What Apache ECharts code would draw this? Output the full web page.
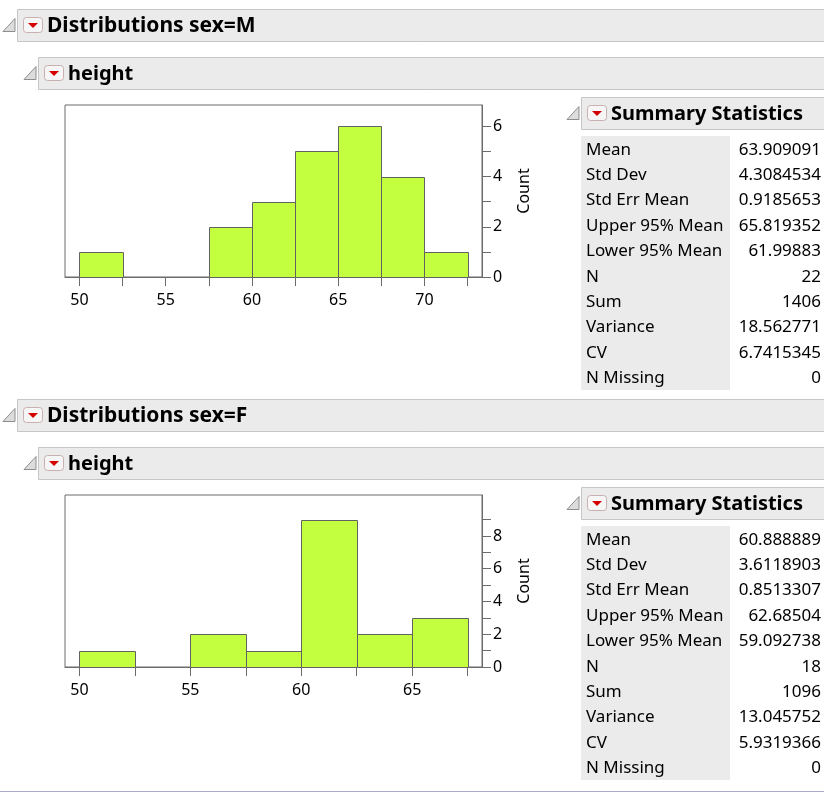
<!DOCTYPE html>
<html><head><meta charset="utf-8">
<script src="https://cdn.jsdelivr.net/npm/echarts@6/dist/echarts.min.js"></script>
<style>html,body{margin:0;padding:0;background:#fff}#c{width:824px;height:792px}</style>
</head><body><div id="c"></div>
<script>
// ---------- data ----------
const binWidth = 2.5;
const binStartsM = [50, 52.5, 55, 57.5, 60, 62.5, 65, 67.5, 70];
const countsM    = [1, 0, 0, 2, 3, 5, 6, 4, 1];
const binStartsF = [50, 52.5, 55, 57.5, 60, 62.5, 65];
const countsF    = [1, 0, 2, 1, 9, 2, 3];
const xTicksM  = [50, 52.5, 55, 57.5, 60, 62.5, 65, 67.5, 70, 72.5];
const xLabelsM = [50, 55, 60, 65, 70];
const xTicksF  = [50, 52.5, 55, 57.5, 60, 62.5, 65, 67.5];
const xLabelsF = [50, 55, 60, 65];
const yTicksM  = [0, 1, 2, 3, 4, 5, 6];
const yLabelsM = [0, 2, 4, 6];
const yTicksF  = [0, 1, 2, 3, 4, 5, 6, 7, 8, 9];
const yLabelsF = [0, 2, 4, 6, 8];
const statNames = ['Mean', 'Std Dev', 'Std Err Mean', 'Upper 95% Mean', 'Lower 95% Mean', 'N', 'Sum', 'Variance', 'CV', 'N Missing'];
const statsM = ['63.909091', '4.3084534', '0.9185653', '65.819352', '61.99883', '22', '1406', '18.562771', '6.7415345', '0'];
const statsF = ['60.888889', '3.6118903', '0.8513307', '62.68504', '59.092738', '18', '1096', '13.045752', '5.9319366', '0'];
const titleM = 'Distributions sex=M';
const titleF = 'Distributions sex=F';
const varName = 'height';
const statsTitle = 'Summary Statistics';
const yName = 'Count';

// ---------- styles ----------
const FONT = '"Noto Sans", "DejaVu Sans", sans-serif';
const BAR_FILL = '#c3ff3e';
const BAR_STROKE = '#626262';
const AXIS_COLOR = '#6b6b6b';

function binData(starts, counts) {
  return starts.map((s, i) => [s, s + binWidth, counts[i]]);
}
function renderBin(params, api) {
  const c = api.value(2);
  if (!c) return null;
  const p0 = api.coord([api.value(0), c]);
  const p1 = api.coord([api.value(1), 0]);
  return {
    type: 'rect',
    shape: { x: Math.round(p0[0]) + 0.5, y: Math.round(p0[1]) + 0.5, width: Math.round(p1[0]) - Math.round(p0[0]), height: Math.round(p1[1]) - Math.round(p0[1]) },
    style: { fill: BAR_FILL, stroke: BAR_STROKE, lineWidth: 1 }
  };
}

function xAxisCfg(idx, min, max, ticks, labels) {
  return {
    type: 'value', gridIndex: idx, min: min, max: max,
    axisLine: { show: true, lineStyle: { color: AXIS_COLOR, width: 1 } },
    axisTick: { show: true, length: 9, lineStyle: { color: AXIS_COLOR }, customValues: ticks },
    axisLabel: { show: true, customValues: labels, margin: 15, color: '#000', fontFamily: FONT, fontSize: 16 },
    splitLine: { show: false }
  };
}
function yAxisCfg(idx, max, ticks, labels) {
  return {
    type: 'value', gridIndex: idx, position: 'right', min: 0, max: max,
    name: yName, nameLocation: 'middle', nameRotate: 90, nameGap: 34,
    nameTextStyle: { color: '#000', fontFamily: FONT, fontSize: 16 },
    axisLine: { show: true, lineStyle: { color: AXIS_COLOR, width: 1 } },
    axisTick: { show: true, length: 9, lineStyle: { color: AXIS_COLOR }, customValues: ticks },
    axisLabel: { show: true, customValues: labels, margin: 11, color: '#000', fontFamily: FONT, fontSize: 16 },
    splitLine: { show: false }
  };
}

// ---------- graphic (report frame) ----------
const graphics = [];
function header(x, y, title, size) {
  const h = 32, cy = y + h / 2;
  graphics.push({ type: 'rect', silent: true, shape: { x: x + 0.5, y: y + 0.5, width: 900, height: h }, style: { fill: '#ebebeb', stroke: '#c6c6c6', lineWidth: 1 } });
  // disclosure triangle
  graphics.push({ type: 'polygon', silent: true, shape: { points: [[x - 14, cy + 6.5], [x - 2, cy + 6.5], [x - 2, cy - 6.5]] }, style: { fill: '#dcdcdc', stroke: '#8e8e8e', lineWidth: 1 } });
  // red popup button
  graphics.push({ type: 'rect', silent: true, shape: { x: x + 6.5, y: cy - 7.5, width: 19, height: 15, r: 3 }, style: { fill: '#f6f6f6', stroke: '#c8b0b0', lineWidth: 1 } });
  graphics.push({ type: 'polygon', silent: true, shape: { points: [[x + 11, cy - 2], [x + 21, cy - 2], [x + 16, cy + 3]] }, style: { fill: '#d40000' } });
  graphics.push({ type: 'text', silent: true, x: x + 30, y: cy + 1, style: { text: title, font: 'bold ' + size + 'px ' + FONT, fill: '#000', textAlign: 'left', textVerticalAlign: 'middle' } });
}
function statsTable(top, values) {
  const rowH = 25.4;
  graphics.push({ type: 'rect', silent: true, shape: { x: 581, y: top, width: 149, height: rowH * statNames.length }, style: { fill: '#ebebeb' } });
  statNames.forEach((n, i) => {
    const cy = top + rowH / 2 + rowH * i;
    graphics.push({ type: 'text', silent: true, x: 586, y: cy + 1, style: { text: n, font: '17px ' + FONT, fill: '#000', textAlign: 'left', textVerticalAlign: 'middle' } });
    graphics.push({ type: 'text', silent: true, x: 821, y: cy + 1, style: { text: values[i], font: '17px ' + FONT, fill: '#000', textAlign: 'right', textVerticalAlign: 'middle' } });
  });
}
function section(off, title, values) {
  header(17, 9 + off, title, 21);
  header(38, 57 + off, varName, 20);
  header(581, 97 + off, statsTitle, 20);
  statsTable(136 + off, values);
}
section(0, titleM, statsM);
section(390, titleF, statsF);
graphics.push({ type: 'line', silent: true, shape: { x1: 0, y1: 791.5, x2: 824, y2: 791.5 }, style: { stroke: '#a9abc8', lineWidth: 1 } });

// ---------- chart ----------
const chart = echarts.init(document.getElementById('c'), null, { renderer: 'canvas' });
chart.setOption({
  animation: false,
  backgroundColor: '#fff',
  grid: [
    { left: 65, top: 105, width: 417, height: 172, show: true, borderColor: AXIS_COLOR, borderWidth: 1, backgroundColor: '#fff' },
    { left: 65, top: 495, width: 417, height: 172, show: true, borderColor: AXIS_COLOR, borderWidth: 1, backgroundColor: '#fff' }
  ],
  xAxis: [
    xAxisCfg(0, 49.166, 73.334, xTicksM, xLabelsM),
    xAxisCfg(1, 49.35, 68.15, xTicksF, xLabelsF)
  ],
  yAxis: [
    yAxisCfg(0, 6.85, yTicksM, yLabelsM),
    yAxisCfg(1, 10.5, yTicksF, yLabelsF)
  ],
  graphic: graphics,
  series: [
    { type: 'custom', xAxisIndex: 0, yAxisIndex: 0, renderItem: renderBin, data: binData(binStartsM, countsM), encode: { x: [0, 1], y: 2 } },
    { type: 'custom', xAxisIndex: 1, yAxisIndex: 1, renderItem: renderBin, data: binData(binStartsF, countsF), encode: { x: [0, 1], y: 2 } }
  ]
});
</script>
</body></html>
